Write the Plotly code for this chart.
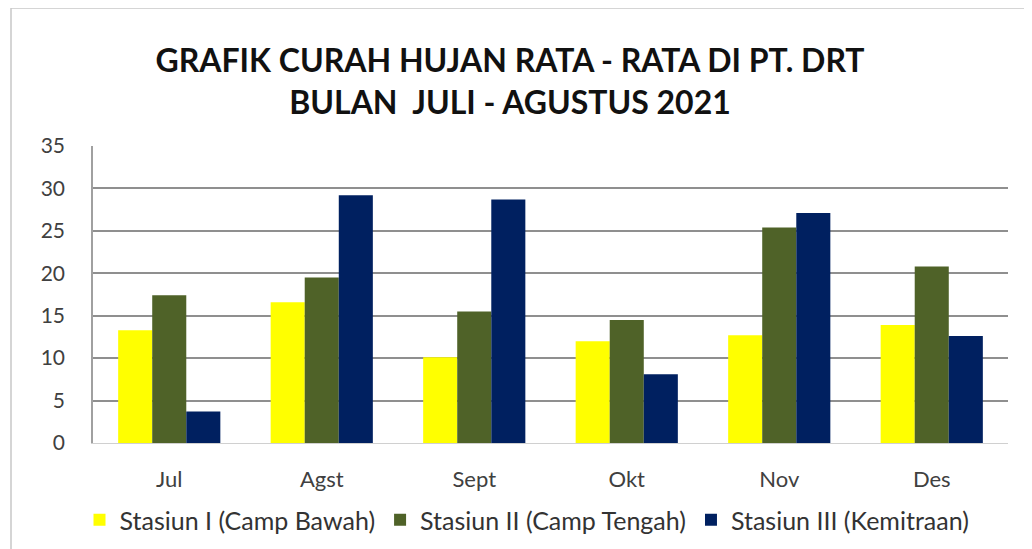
import plotly.graph_objects as go

categories = ["Jul", "Agst", "Sept", "Okt", "Nov", "Des"]
stasiun1 = [13.3, 16.6, 10.1, 12.0, 12.7, 13.9]
stasiun2 = [17.4, 19.5, 15.5, 14.5, 25.4, 20.8]
stasiun3 = [3.7, 29.2, 28.7, 8.1, 27.1, 12.6]
names = ["Stasiun I (Camp Bawah)", "Stasiun II (Camp Tengah)", "Stasiun III (Kemitraan)"]
colors = ["#FFFF00", "#4F6228", "#002060"]
yticks = [0, 5, 10, 15, 20, 25, 30, 35]

FONT = "Lato"

fig = go.Figure()
for name, vals, col in zip(names, [stasiun1, stasiun2, stasiun3], colors):
    fig.add_trace(go.Bar(x=categories, y=vals, name=name, marker_color=col,
                         marker_line_width=0))

OFF = 8  # page body margin
W, H = 1032 - OFF, 549 - OFF
# screen coordinates of plot area
SL, SR, ST, SB = 93, 1008, 146, 443
L, T = SL - OFF, ST - OFF
R, B = W - (SR - OFF), H - (SB - OFF)
pw, ph = SR - SL, SB - ST


def px(x):
    return (x - SL) / pw


def py(y):
    return (SB - y) / ph


fig.update_layout(
    width=W, height=H,
    margin=dict(l=L, r=R, t=T, b=B, autoexpand=False),
    paper_bgcolor="white", plot_bgcolor="white",
    barmode="group", bargap=0.33, bargroupgap=0,
    font=dict(family=FONT, color="#404040", size=21),
    title=dict(text="GRAFIK CURAH HUJAN RATA - RATA DI PT. DRT<br>BULAN  JULI - AGUSTUS 2021",
               x=(510 - OFF) / W, xref="container", xanchor="center",
               y=1 - (72 - OFF) / H, yref="container", yanchor="middle",
               font=dict(family=FONT, size=32, color="#111111", weight="bold")),
    showlegend=True,
    legend=dict(orientation="h", x=px(527), xanchor="center", y=py(520), yanchor="middle",
                font=dict(family=FONT, size=25, color="#333333"), itemwidth=30,
                traceorder="normal"),
    xaxis=dict(showgrid=False, showline=True, linecolor="#d0d0d0", linewidth=1,
               tickfont=dict(size=22, color="#404040"), ticklabelstandoff=17),
    yaxis=dict(range=[0, 35], tickvals=yticks, showgrid=True, gridcolor="#8f8f8f",
               gridwidth=1.5, showline=True, linecolor="#a0a0a0", linewidth=1.5,
               zeroline=False, tickfont=dict(size=21, color="#404040"),
               ticklabelstandoff=22),
    shapes=[dict(type="rect", xref="paper", yref="paper",
                 x0=px(11), x1=px(1030), y0=py(570), y1=py(8),
                 line=dict(color="#c8c8c8", width=1.5), fillcolor="rgba(0,0,0,0)",
                 layer="below")],
)

fig.write_html("out.html")
